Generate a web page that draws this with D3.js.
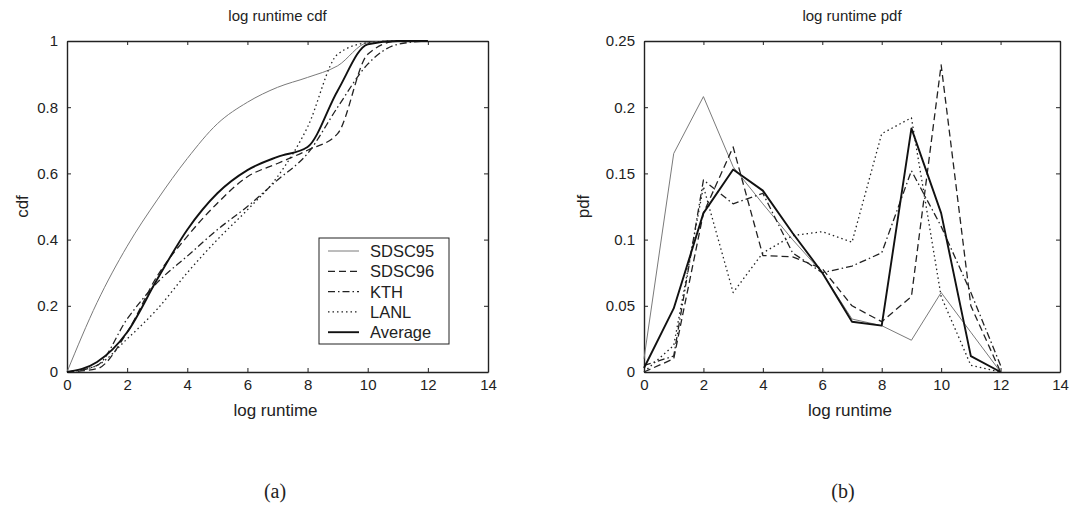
<!DOCTYPE html>
<html>
<head>
<meta charset="utf-8">
<script src="https://cdn.jsdelivr.net/npm/d3@7"></script>
<style>
  body { margin: 0; background: #fff; }
  svg text { font-family: "Liberation Sans", Arial, sans-serif; fill: #222; }
</style>
</head>
<body>
<svg id="chart" width="1076" height="519"></svg>
<script>
// log runtime bins
const runtimes = [0, 1, 2, 3, 4, 5, 6, 7, 8, 9, 10, 11, 12];
const seriesNames = ['SDSC95', 'SDSC96', 'KTH', 'LANL', 'Average'];

// cdf values
const cdfSDSC95 = [0, 0.21, 0.38, 0.52, 0.645, 0.75, 0.815, 0.86, 0.89, 0.925, 0.995, 1, 1];
const cdfSDSC96 = [0, 0.01, 0.12, 0.29, 0.41, 0.51, 0.59, 0.63, 0.67, 0.72, 0.96, 1, 1];
const cdfKTH = [0, 0.02, 0.16, 0.27, 0.35, 0.43, 0.5, 0.58, 0.66, 0.8, 0.93, 0.99, 1];
const cdfLANL = [0, 0.02, 0.1, 0.19, 0.3, 0.4, 0.49, 0.59, 0.74, 0.96, 0.995, 1, 1];
const cdfAverage = [0, 0.03, 0.12, 0.28, 0.43, 0.54, 0.61, 0.65, 0.68, 0.85, 0.99, 1, 1];

// pdf values
const pdfSDSC95 = [0.01, 0.165, 0.208, 0.155, 0.127, 0.1, 0.075, 0.04, 0.035, 0.024, 0.06, 0.03, 0];
const pdfSDSC96 = [0, 0.01, 0.12, 0.17, 0.088, 0.087, 0.078, 0.05, 0.038, 0.057, 0.232, 0.05, 0];
const pdfKTH = [0.005, 0.012, 0.145, 0.127, 0.135, 0.09, 0.075, 0.08, 0.09, 0.152, 0.11, 0.06, 0.005];
const pdfLANL = [0, 0.02, 0.14, 0.06, 0.09, 0.103, 0.106, 0.098, 0.18, 0.192, 0.057, 0.005, 0];
const pdfAverage = [0.003, 0.048, 0.12, 0.153, 0.137, 0.105, 0.075, 0.038, 0.035, 0.184, 0.12, 0.012, 0];

// tick labels
const xTicks = [0, 2, 4, 6, 8, 10, 12, 14];
const cdfTicks = [0, 0.2, 0.4, 0.6, 0.8, 1];
const pdfTicks = [0, 0.05, 0.1, 0.15, 0.2, 0.25];

const cdfSeries = [cdfSDSC95, cdfSDSC96, cdfKTH, cdfLANL, cdfAverage];
const pdfSeries = [pdfSDSC95, pdfSDSC96, pdfKTH, pdfLANL, pdfAverage];

const lineStyle = {
  SDSC95: { stroke: '#7a7a7a', width: 1, dash: null },
  SDSC96: { stroke: '#222', width: 1.3, dash: '7,4' },
  KTH: { stroke: '#222', width: 1.3, dash: '7,3,1.5,3' },
  LANL: { stroke: '#222', width: 1.3, dash: '1.5,3' },
  Average: { stroke: '#111', width: 1.9, dash: null }
};

const svg = d3.select('#chart');
const plotTop = 41, plotBottom = 372;

function fmt(v) {
  return d3.format('~g')(v);
}

function drawPanel(opts) {
  const x = d3.scaleLinear().domain([0, 14]).range([opts.left, opts.right]);
  const y = d3.scaleLinear().domain([0, opts.yMax]).range([plotBottom, plotTop]);
  const g = svg.append('g');

  // axes with MATLAB style inward ticks, box on all four sides
  g.append('g')
    .attr('transform', `translate(0,${plotBottom})`)
    .call(d3.axisBottom(x).tickValues(xTicks).tickFormat(fmt).tickSizeInner(-4).tickSizeOuter(0).tickPadding(7));
  g.append('g')
    .attr('transform', `translate(0,${plotTop})`)
    .call(d3.axisTop(x).tickValues(xTicks).tickFormat('').tickSizeInner(-4).tickSizeOuter(0));
  g.append('g')
    .attr('transform', `translate(${opts.left},0)`)
    .call(d3.axisLeft(y).tickValues(opts.yTicks).tickFormat(fmt).tickSizeInner(-4).tickSizeOuter(0).tickPadding(9));
  g.append('g')
    .attr('transform', `translate(${opts.right},0)`)
    .call(d3.axisRight(y).tickValues(opts.yTicks).tickFormat('').tickSizeInner(-4).tickSizeOuter(0));

  g.selectAll('.domain').attr('stroke', '#222').attr('stroke-width', 1.4);
  g.selectAll('.tick line').attr('stroke', '#222');
  g.selectAll('.tick text')
    .style('font-size', '15px')
    .attr('fill', '#222');

  const line = d3.line()
    .x((d, i) => x(runtimes[i]))
    .y((d) => y(d))
    .curve(opts.curve);

  seriesNames.forEach((name, i) => {
    const s = lineStyle[name];
    g.append('path')
      .datum(opts.series[i])
      .attr('d', line)
      .attr('fill', 'none')
      .attr('stroke', s.stroke)
      .attr('stroke-width', s.width)
      .attr('stroke-dasharray', s.dash)
      .attr('stroke-linejoin', 'round');
  });

  const cx = (opts.left + opts.right) / 2;

  // title
  g.append('text')
    .attr('x', cx)
    .attr('y', 21)
    .attr('text-anchor', 'middle')
    .style('font-size', '15px')
    .text(opts.title);

  // x label
  g.append('text')
    .attr('x', cx - 2)
    .attr('y', 416)
    .attr('text-anchor', 'middle')
    .style('font-size', '17px')
    .text('log runtime');

  // y label
  g.append('text')
    .attr('transform', `translate(${opts.yLabelX},${(plotTop + plotBottom) / 2}) rotate(-90)`)
    .attr('text-anchor', 'middle')
    .style('font-size', '17px')
    .text(opts.yLabel);

  // panel letter
  g.append('text')
    .attr('x', opts.letterX)
    .attr('y', 498)
    .attr('text-anchor', 'middle')
    .style('font-family', '"Liberation Serif", "DejaVu Serif", serif')
    .style('font-size', '20px')
    .text(opts.letter);

  return { g, x, y };
}

const panelA = drawPanel({
  left: 67, right: 488, yMax: 1, yTicks: cdfTicks, curve: d3.curveMonotoneX,
  series: cdfSeries, title: 'log runtime cdf', yLabel: 'cdf',
  yLabelX: 28, letter: '(a)', letterX: 275
});

drawPanel({
  left: 644, right: 1060, yMax: 0.25, yTicks: pdfTicks, curve: d3.curveLinear,
  series: pdfSeries, title: 'log runtime pdf', yLabel: 'pdf',
  yLabelX: 589, letter: '(b)', letterX: 843
});

// Legend box
const legend = panelA.g.append('g').attr('transform', 'translate(319,238)');
legend.append('rect')
  .attr('width', 130)
  .attr('height', 106)
  .attr('fill', '#fff')
  .attr('stroke', '#222')
  .attr('stroke-width', 1);

seriesNames.forEach((name, i) => {
  const s = lineStyle[name];
  const ly = 13 + i * 20.3;
  legend.append('line')
    .attr('x1', 9)
    .attr('x2', 40)
    .attr('y1', ly)
    .attr('y2', ly)
    .attr('stroke', s.stroke)
    .attr('stroke-width', s.width)
    .attr('stroke-dasharray', s.dash);
  legend.append('text')
    .attr('x', 51)
    .attr('y', ly + 6)
    .style('font-size', '16.5px')
    .text(name);
});
</script>
</body>
</html>
